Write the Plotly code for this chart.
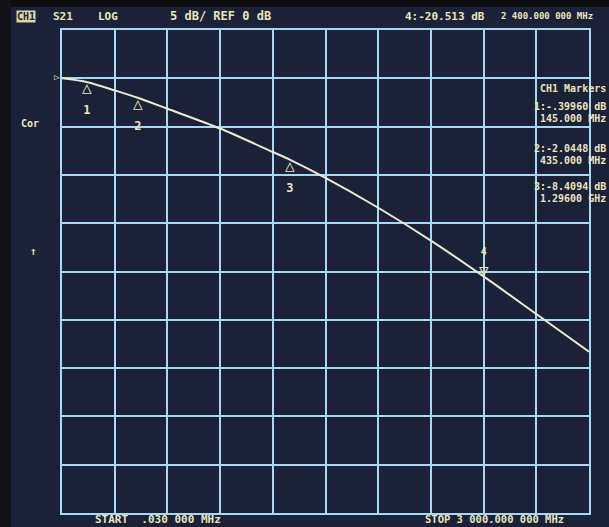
import plotly.graph_objects as go

# ---- data ----
freq_mhz = [0.03, 145, 300, 435, 600, 900, 1200, 1296, 1500, 1800, 2100, 2400, 2700, 3000]
s21_db = [0.0, -0.40, -1.25, -2.04, -3.15, -5.2, -7.63, -8.41, -10.3, -13.4, -16.8, -20.51, -24.4, -28.3]

marker_ids = ["1", "2", "3", "4"]
marker_freq = [145, 435, 1296, 2400]
marker_db = [-0.3996, -2.0448, -8.4094, -20.513]

marker_lines = ["CH1 Markers", "1:-.39960 dB", "145.000 MHz", "2:-2.0448 dB", "435.000 MHz",
                "3:-8.4094 dB", "1.29600 GHz"]

# ---- layout geometry ----
W, H = 609, 527
L, R, T, B = 62, 20, 30, 14
PW, PH = W - L - R, H - T - B
TXT = "#e9e6bf"
GRID = "#a6d9f0"
BG = "#1b2136"
FONT = "DejaVu Sans Mono"


def px(x):
    return (x - L) / PW


def py(y):
    return (H - B - y) / PH


fig = go.Figure()
fig.add_trace(go.Scatter(x=freq_mhz, y=s21_db, mode="lines",
                         line=dict(color="#ecebd2", width=2, shape="spline", smoothing=0.8),
                         hoverinfo="skip", showlegend=False))

ann = []
for mid, f, d in zip(marker_ids, marker_freq, marker_db):
    if mid == "4":
        ann.append(dict(x=f, y=d, xref="x", yref="y",
                        text="<span style='font-size:10px'><b>4</b></span><br>▽",
                        showarrow=False, yanchor="bottom", yshift=-6,
                        font=dict(family=FONT, size=16, color=TXT)))
    else:
        ann.append(dict(x=f, y=d, xref="x", yref="y",
                        text="△<br><span style='font-size:12px'><b>" + mid + "</b></span>",
                        showarrow=False, yanchor="top", yshift=6,
                        font=dict(family=FONT, size=16, color=TXT)))


def t(x, y, s, anchor="left", size=11, **kw):
    ann.append(dict(x=px(x), y=py(y), xref="paper", yref="paper", text=s, showarrow=False,
                    xanchor=anchor, yanchor="middle",
                    font=dict(family=FONT, size=size, color=kw.get("color", TXT), weight="bold"),
                    bgcolor=kw.get("bg", None), borderpad=0))

t(16, 16, "CH1", color="#1b2034", bg="#d9d6a8", size=10)
t(52, 16, "S21", size=11)
t(97, 16, "LOG", size=11)
t(169, 16, "5 dB/ REF 0 dB", size=12)
t(404, 16, "4:-20.513 dB", size=11)
t(500, 16, "2 400.000 000 MHz", size=9)

ys = [88, 106, 118, 148, 160, 186, 198]
for y, s in zip(ys, marker_lines):
    t(607, y, s, anchor="right", size=10)

t(20, 124, "Cor", size=10)
t(29, 251, "↑", size=11)
t(53, 77, "▷", size=9)

t(94, 519, "START  .030 000 MHz", size=11)
t(424, 519, "STOP 3 000.000 000 MHz", size=10.5)

fig.update_layout(
    width=W, height=H,
    margin=dict(l=L, r=R, t=T, b=B),
    paper_bgcolor=BG, plot_bgcolor=BG,
    annotations=ann,
    xaxis=dict(range=[0.03, 3000], tick0=0.03, dtick=299.997, showticklabels=False,
               showgrid=True, gridcolor=GRID, gridwidth=2, zeroline=False,
               showline=True, mirror=True, linecolor=GRID, linewidth=2, ticks=""),
    yaxis=dict(range=[-45, 5], dtick=5, showticklabels=False,
               showgrid=True, gridcolor=GRID, gridwidth=2, zeroline=False,
               showline=True, mirror=True, linecolor=GRID, linewidth=2, ticks=""),
    shapes=[
        dict(type="rect", xref="paper", yref="paper", x0=px(0), x1=px(W), y0=py(0), y1=py(7),
             fillcolor="#0d0d10", line=dict(width=0), layer="below"),
        dict(type="rect", xref="paper", yref="paper", x0=px(0), x1=px(11), y0=py(0), y1=py(H),
             fillcolor="#141418", line=dict(width=0), layer="below"),
    ],
)

fig.write_html("out.html", config={"displayModeBar": False},
               post_script="document.body.style.margin='0';document.body.style.overflow='hidden';")
